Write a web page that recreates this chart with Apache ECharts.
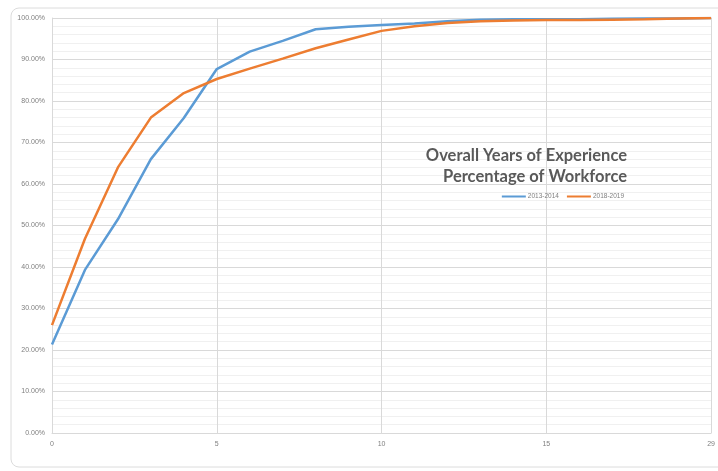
<!DOCTYPE html>
<html>
<head>
<meta charset="utf-8">
<script src="https://cdn.jsdelivr.net/npm/echarts@6/dist/echarts.min.js"></script>
<style>
  html, body { margin: 0; padding: 0; background: #ffffff; }
  #chart { width: 718px; height: 471px; }
</style>
</head>
<body>
<div id="chart"></div>
<script>
// Years of experience (last bucket is 29)
const years = ['0','1','2','3','4','5','6','7','8','9','10','11','12','13','14','15','16','17','18','19','29'];

// Cumulative share of workforce, percent
const cohort2013 = [21.3, 39.3, 51.5, 66.0, 75.9, 87.7, 91.9, 94.5, 97.3, 97.9, 98.3, 98.7, 99.2, 99.6, 99.7, 99.7, 99.7, 99.8, 99.9, 99.9, 100];
const cohort2018 = [26.0, 46.8, 64.0, 76.0, 81.9, 85.3, 87.8, 90.2, 92.7, 94.8, 96.9, 98.0, 98.8, 99.2, 99.4, 99.5, 99.5, 99.6, 99.7, 99.9, 100];

const yTicks = { min: 0, max: 100, step: 10 };

const chart = echarts.init(document.getElementById('chart'), null, { renderer: 'canvas' });

const titleStyle = {
  fontFamily: 'Lato',
  fontWeight: 'bold',
  fontSize: 16.5,
  fill: '#595959',
  textAlign: 'right',
  textVerticalAlign: 'middle'
};

chart.setOption({
  backgroundColor: '#ffffff',
  animation: false,
  graphic: [
    {
      type: 'rect',
      shape: { x: 11, y: 8, width: 720, height: 459, r: 8 },
      style: { fill: 'none', stroke: '#dcdcdc', lineWidth: 1 },
      z: -1
    },
    {
      type: 'text', x: 627, y: 156, z: 10,
      style: Object.assign({ text: 'Overall Years of Experience' }, titleStyle)
    },
    {
      type: 'text', x: 627, y: 177, z: 10,
      style: Object.assign({ text: 'Percentage of Workforce' }, titleStyle)
    }
  ],
  legend: {
    top: 193,
    right: 94,
    padding: 0,
    itemWidth: 24,
    itemHeight: 2,
    itemGap: 8,
    icon: 'rect',
    textStyle: { fontFamily: 'Liberation Sans', fontSize: 6.5, color: '#7f7f7f', padding: [0, 0, 0, -3] },
    data: ['2013-2014', '2018-2019']
  },
  grid: { left: 52, right: 6, top: 18, bottom: 38, containLabel: false },
  xAxis: {
    type: 'category',
    data: years,
    boundaryGap: false,
    axisLine: { show: true, lineStyle: { color: '#d9d9d9' } },
    axisTick: { show: false },
    axisLabel: {
      interval: 4,
      color: '#7f7f7f',
      fontFamily: 'Liberation Sans',
      fontSize: 7,
      margin: 8
    },
    splitLine: { show: true, interval: 4, lineStyle: { color: '#d9d9d9', width: 1 } }
  },
  yAxis: {
    type: 'value',
    min: yTicks.min,
    max: yTicks.max,
    interval: yTicks.step,
    axisLine: { show: true, lineStyle: { color: '#d9d9d9' } },
    axisTick: { show: false },
    axisLabel: {
      color: '#7f7f7f',
      fontFamily: 'Liberation Sans',
      fontSize: 7,
      margin: 7,
      formatter: v => v.toFixed(2) + '%'
    },
    splitLine: { show: true, lineStyle: { color: '#d9d9d9', width: 1 } },
    minorTick: { show: false, splitNumber: 5 },
    minorSplitLine: { show: true, lineStyle: { color: '#f0f0f0', width: 1 } }
  },
  series: [
    {
      name: '2013-2014',
      type: 'line',
      data: cohort2013,
      showSymbol: false,
      symbol: 'none',
      lineStyle: { color: '#5b9bd5', width: 2.5 },
      itemStyle: { color: '#5b9bd5' }
    },
    {
      name: '2018-2019',
      type: 'line',
      data: cohort2018,
      showSymbol: false,
      symbol: 'none',
      lineStyle: { color: '#ed7d31', width: 2.5 },
      itemStyle: { color: '#ed7d31' }
    }
  ]
});
</script>
</body>
</html>
